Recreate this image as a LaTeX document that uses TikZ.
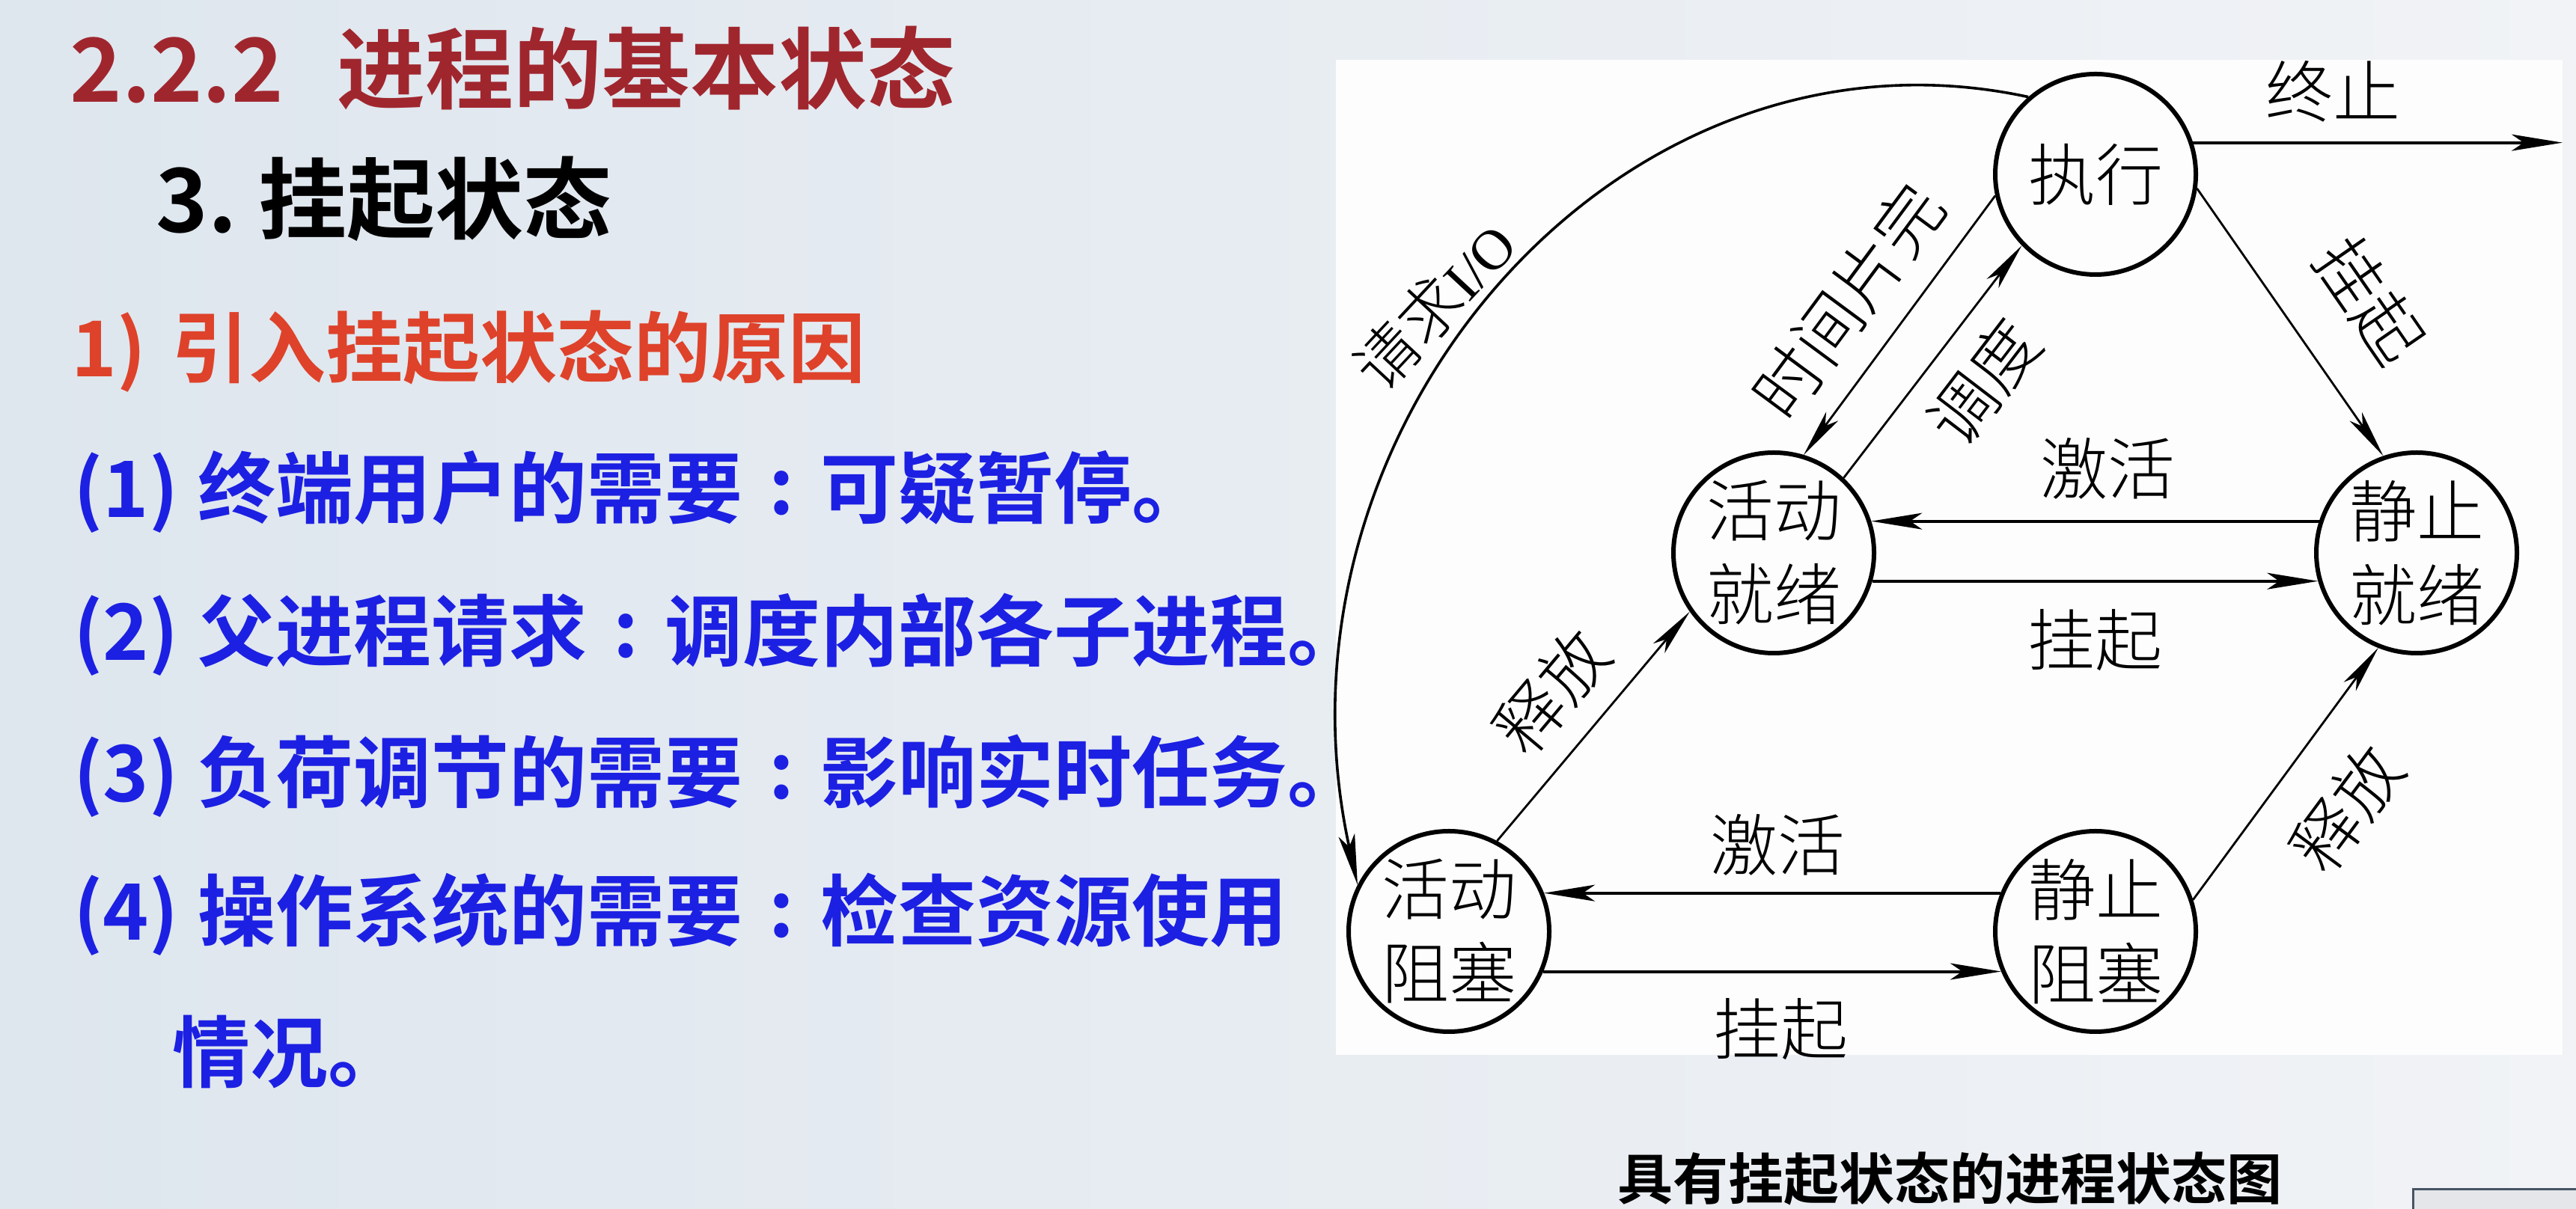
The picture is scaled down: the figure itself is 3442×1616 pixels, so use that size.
\documentclass[tikz,border=0pt]{standalone}
\usepackage{fontspec}
\usetikzlibrary{arrows.meta}
\IfFontExistsTF{Noto Sans CJK SC Bold}{\newfontfamily\cjkb{Noto Sans CJK SC Bold}}{\newfontfamily\cjkb[FakeBold=2]{Noto Sans CJK SC}}
\IfFontExistsTF{Noto Sans CJK SC Light}{\newfontfamily\cjkl{Noto Sans CJK SC Light}}{\newfontfamily\cjkl{Noto Sans CJK SC}}
\newfontfamily\latserif{Liberation Serif}
\newcommand\mycolon{\makebox[1em][c]{\raisebox{0.04em}{:}}}
\definecolor{titlered}{RGB}{160,38,46}
\definecolor{subred}{RGB}{222,66,42}
\definecolor{itemblue}{RGB}{28,32,226}
\definecolor{bgA}{RGB}{222,230,238}
\definecolor{bgB}{RGB}{241,243,246}
\definecolor{panelc}{RGB}{253,253,253}
\definecolor{boxfill}{RGB}{228,230,234}
\definecolor{boxline}{RGB}{70,84,100}
\begin{document}
\begin{tikzpicture}[x=0.5pt,y=0.5pt,
  state/.style={circle,draw,line width=3pt,minimum size=134pt,inner sep=0pt,
    font=\cjkl\fontsize{45}{56}\selectfont,align=center},
  lbl/.style={inner sep=0pt,font=\cjkl\fontsize{45}{56}\selectfont},
  hline/.style={line width=2pt,-{Stealth[length=34pt,width=11pt,inset=8pt]}},
  dline/.style={line width=1.4pt,-{Stealth[length=32pt,width=10pt,inset=8pt]}},
  cline/.style={line width=1.8pt,-{Stealth[length=34pt,width=11pt,inset=8pt]}},
  ttl/.style={anchor=base west,inner sep=0pt,text=titlered,font=\cjkb\fontsize{59}{70}\selectfont},
  sec/.style={anchor=base west,inner sep=0pt,text=black,font=\cjkb\fontsize{59}{70}\selectfont},
  sub/.style={anchor=base west,inner sep=0pt,text=subred,font=\cjkb\fontsize{51.5}{60}\selectfont},
  item/.style={anchor=base west,inner sep=0pt,text=itemblue,font=\cjkb\fontsize{52}{62}\selectfont},
  capt/.style={anchor=base,inner sep=0pt,text=black,font=\cjkb\fontsize{37}{44}\selectfont}
]
\useasboundingbox (0,0) rectangle (3442,1616);
\shade[left color=bgA,right color=bgB] (0,0) rectangle (3442,1616);
\fill[panelc] (1785,206) rectangle (3424,1536);
\filldraw[fill=boxfill,draw=boxline,line width=1.5pt] (3224,-10) rectangle (3460,26);

% left text
\node[ttl] (t1a) at (93,1479) {2.2.2};
\node[ttl] (t1b) at (450,1479) {进程的基本状态};
\node[sec] (t2a) at (208,1305) {3.};
\node[sec] (t2b) at (345,1305) {挂起状态};
\node[sub] (t3a) at (95,1112) {1)};
\node[sub] (t3b) at (229,1112) {引入挂起状态的原因};
\node[item] (i1a) at (98,924) {(1)};
\node[item] (i1b) at (264,924) {终端用户的需要\mycolon 可疑暂停。};
\node[item] (i2a) at (98,733) {(2)};
\node[item] (i2b) at (264,733) {父进程请求\mycolon 调度内部各子进程。};
\node[item] (i3a) at (98,544) {(3)};
\node[item] (i3b) at (264,544) {负荷调节的需要\mycolon 影响实时任务。};
\node[item] (i4a) at (98,359) {(4)};
\node[item] (i4b) at (264,359) {操作系统的需要\mycolon 检查资源使用};
\node[item] (i5) at (230,170) {情况。};

% diagram states
\node[state] (ex) at (2800,1383) {执行};
\node[state] (ar) at (2370,877) {活动\\就绪};
\node[state] (sr) at (3229,877) {静止\\就绪};
\node[state] (ab) at (1936,371) {活动\\阻塞};
\node[state] (sb) at (2800,371) {静止\\阻塞};
\coordinate (endT) at (3424,1425);

% connectors
\draw[hline] (ex.18) -- (ex.18 -| endT);
\draw[dline] (ex.-8) -- (sr.109);
\draw[dline] (ex.192) -- (ar.73);
\draw[dline] (ar.47) -- (ex.224);
\draw[hline] (sr.162) -- (ar.18);
\draw[hline] (ar.-16) -- (sr.196);
\draw[dline] (ab.62) -- (ar.215);
\draw[dline] (sb.18) -- (sr.248);
\draw[hline] (sb.158) -- (ab.22);
\draw[hline] (ab.-23) -- (sb.203);
\draw[cline] (ex.131) .. controls (2160,1605) and (1680,1041) .. (ab.153);

% labels
\node[lbl] (lT) at (3117,1494) {终止};
\node[lbl,rotate=-55.4] (lG1) at (3166,1215) {挂起};
\node[lbl,rotate=53.5] (lS) at (2469,1214) {时间片完};
\node[lbl,rotate=52.6] (lD) at (2650,1105) {调度};
\node[lbl] (lA1) at (2816,990) {激活};
\node[lbl] (lG2) at (2799,760) {挂起};
\node[lbl,rotate=50] (lR1) at (2073,691) {释放};
\node[lbl,rotate=53.5] (lR2) at (3136,535) {释放};
\node[lbl] (lA2) at (2375,487) {激活};
\node[lbl] (lG3) at (2379,240) {挂起};
\node[lbl,rotate=47,font=\cjkl\fontsize{42}{50}\selectfont] (lIO) at (1916,1208) {请求{\latserif\fontsize{38}{44}\selectfont I/O}};

% caption
\node[capt] (cap) at (2605,12) {具有挂起状态的进程状态图};
\end{tikzpicture}
\end{document}
